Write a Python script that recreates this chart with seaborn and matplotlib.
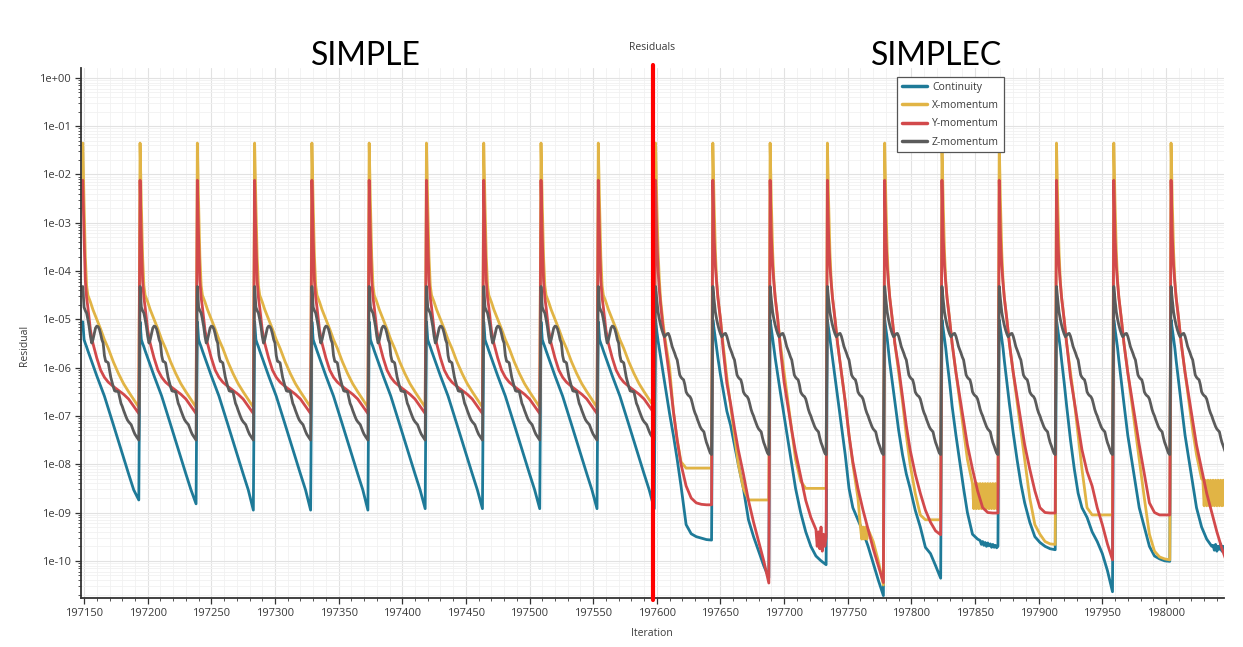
import numpy as np
import pandas as pd
import matplotlib
matplotlib.use("Agg")
import matplotlib.pyplot as plt
from matplotlib.lines import Line2D
from matplotlib.ticker import FixedLocator, FuncFormatter, NullFormatter
import seaborn as sns

# ---------------- data (log10 of residual) ----------------
series_names = ["Continuity", "X-momentum", "Y-momentum", "Z-momentum"]
series_colors = ["#1e7a98", "#e1b445", "#d2494b", "#5b5b5b"]

first_cycle_iteration = 197149
cycle_length = 45
n_simple_cycles = 10
n_simplec_cycles = 10
switch_iteration = 197597

x_tick_values = [197150, 197200, 197250, 197300, 197350, 197400, 197450, 197500,
                 197550, 197600, 197650, 197700, 197750, 197800, 197850, 197900,
                 197950, 198000]
y_tick_exponents = [0, -1, -2, -3, -4, -5, -6, -7, -8, -9, -10]

# sample offsets inside one cycle (iterations after the spike)
OFFS = [0, 1, 2, 3, 4, 6, 8, 11, 14, 17, 20, 24, 28, 32, 36, 40, 44]

# SIMPLE cycles (all alike)
simple_cont = [-5.05, -5.42, -5.50, -5.57, -5.65, -5.80, -5.95, -6.17, -6.38, -6.59,
               -6.84, -7.18, -7.52, -7.86, -8.20, -8.53, -8.87]
simple_cont_end = [-8.74, -8.82, -8.95, -8.95, -8.95, -8.92, -8.92, -8.92, -8.92, -8.92]
simple_xmom = [-1.35, -2.60, -3.70, -4.30, -4.50, -4.64, -4.80, -5.00, -5.20, -5.42,
               -5.60, -5.88, -6.12, -6.33, -6.50, -6.66, -6.82]
simple_ymom = [-2.12, -3.30, -4.20, -4.55, -4.75, -5.22, -5.50, -5.80, -6.05, -6.20,
               -6.30, -6.39, -6.47, -6.55, -6.65, -6.80, -6.95]
simple_zmom = [-4.32, -4.75, -4.82, -4.87, -5.00, -5.15, -5.35, -5.49, -5.42, -5.30,
               -5.18, -5.14, -5.15, -5.20, -5.30, -5.42, -5.49, -5.75, -5.87, -5.88,
               -5.90, -6.05, -6.20, -6.30, -6.40, -6.48, -6.49, -6.49, -6.50, -6.62,
               -6.74, -6.80, -6.88, -6.95, -7.02, -7.08, -7.12, -7.15, -7.18, -7.25,
               -7.32, -7.38, -7.42, -7.46, -7.50]

# SIMPLEC cycles (one list per cycle)
simplec_cont = [
    [-5.01, -5.25, -5.45, -5.62, -5.80, -6.12, -6.45, -6.95, -7.40, -7.90, -8.45, -9.25, -9.44, -9.50, -9.53, -9.56, -9.57],
    [-5.01, -5.20, -5.40, -5.60, -5.80, -6.15, -6.45, -6.90, -7.20, -7.60, -8.00, -8.50, -9.15, -9.50, -9.80, -10.10, -10.35],
    [-5.01, -5.20, -5.40, -5.60, -5.80, -6.15, -6.50, -7.00, -7.50, -8.00, -8.50, -9.00, -9.40, -9.70, -9.90, -10.00, -10.08],
    [-5.01, -5.20, -5.40, -5.60, -5.80, -6.20, -6.60, -7.20, -7.80, -8.50, -8.90, -9.15, -9.40, -9.70, -10.05, -10.40, -10.72],
    [-5.01, -5.20, -5.40, -5.65, -5.90, -6.30, -6.70, -7.30, -7.80, -8.20, -8.50, -8.95, -9.30, -9.72, -9.85, -10.10, -10.36],
    [-5.01, -5.20, -5.40, -5.60, -5.85, -6.30, -6.80, -7.40, -7.95, -8.50, -9.00, -9.45, -9.55, -9.62, -9.65, -9.68, -9.70],
    [-5.01, -5.20, -5.40, -5.60, -5.85, -6.30, -6.75, -7.35, -7.90, -8.40, -8.80, -9.20, -9.50, -9.62, -9.70, -9.75, -9.77],
    [-5.01, -5.20, -5.40, -5.60, -5.85, -6.30, -6.80, -7.50, -8.10, -8.60, -8.90, -9.10, -9.40, -9.60, -9.85, -10.20, -10.64],
    [-5.01, -5.20, -5.40, -5.60, -5.85, -6.30, -6.75, -7.40, -7.90, -8.40, -8.90, -9.30, -9.70, -9.90, -9.96, -10.00, -10.01],
    [-5.01, -5.20, -5.40, -5.60, -5.85, -6.30, -6.75, -7.40, -7.90, -8.40, -8.90, -9.30, -9.55, -9.70, -9.72, -9.72, -9.74],
]
simplec_xmom = [
    [-1.35, -2.60, -3.60, -4.20, -4.60, -5.10, -5.50, -6.00, -6.90, -7.50, -7.95, -8.08, -8.08, -8.08, -8.08, -8.08, -8.08],
    [-1.35, -2.60, -3.60, -4.20, -4.55, -5.00, -5.50, -6.20, -6.80, -7.40, -8.00, -8.50, -8.74, -8.74, -8.74, -8.74, -8.74],
    [-1.35, -2.60, -3.60, -4.20, -4.55, -5.00, -5.50, -6.10, -6.70, -7.30, -7.90, -8.35, -8.50, -8.50, -8.50, -8.50, -8.50],
    [-1.35, -2.60, -3.60, -4.20, -4.55, -5.00, -5.50, -6.10, -6.70, -7.40, -8.00, -8.70, -9.20, -9.35, -9.60, -10.00, -10.50],
    [-1.35, -2.60, -3.60, -4.20, -4.55, -5.00, -5.50, -6.10, -6.70, -7.40, -8.00, -8.60, -9.05, -9.15, -9.15, -9.15, -9.15],
    [-1.35, -2.60, -3.60, -4.20, -4.55, -5.00, -5.50, -6.10, -6.70, -7.30, -7.90, -8.40, -8.60, -8.60, -8.60, -8.60, -8.60],
    [-1.35, -2.60, -3.60, -4.20, -4.55, -5.00, -5.50, -6.10, -6.70, -7.30, -7.90, -8.70, -9.25, -9.45, -9.60, -9.65, -9.66],
    [-1.35, -2.60, -3.60, -4.20, -4.55, -5.00, -5.50, -6.10, -6.70, -7.40, -8.10, -8.90, -9.05, -9.05, -9.05, -9.05, -9.05],
    [-1.35, -2.60, -3.60, -4.20, -4.55, -5.00, -5.50, -6.10, -6.70, -7.30, -7.90, -8.70, -9.45, -9.80, -9.92, -9.96, -9.98],
    [-1.35, -2.60, -3.60, -4.20, -4.55, -5.00, -5.50, -6.10, -6.70, -7.30, -7.80, -8.30, -8.60, -8.60, -8.60, -8.60, -8.60],
]
simplec_ymom = [
    [-2.12, -3.30, -4.00, -4.40, -4.70, -5.20, -5.60, -6.20, -6.90, -7.50, -8.00, -8.45, -8.70, -8.80, -8.83, -8.84, -8.84],
    [-2.12, -3.30, -3.90, -4.25, -4.55, -5.00, -5.60, -6.32, -6.75, -7.25, -7.70, -8.20, -8.75, -9.20, -9.60, -10.00, -10.46],
    [-2.12, -3.30, -3.90, -4.25, -4.55, -5.00, -5.60, -6.30, -6.80, -7.30, -7.75, -8.25, -8.75, -9.10, -9.40, -9.50, -9.50],
    [-2.12, -3.30, -3.90, -4.25, -4.55, -5.00, -5.50, -6.10, -6.70, -7.40, -7.95, -8.50, -8.95, -9.35, -9.75, -10.10, -10.45],
    [-2.12, -3.30, -3.90, -4.25, -4.55, -5.00, -5.50, -6.00, -6.60, -7.20, -7.70, -8.20, -8.60, -8.95, -9.20, -9.38, -9.46],
    [-2.12, -3.30, -3.90, -4.25, -4.55, -5.00, -5.50, -6.10, -6.60, -7.10, -7.60, -8.10, -8.55, -8.90, -9.00, -9.01, -9.01],
    [-2.12, -3.30, -3.90, -4.25, -4.55, -5.00, -5.50, -6.10, -6.60, -7.10, -7.60, -8.10, -8.55, -8.90, -9.00, -9.01, -9.01],
    [-2.12, -3.30, -3.90, -4.25, -4.55, -5.00, -5.50, -6.20, -6.70, -7.20, -7.70, -8.15, -8.45, -8.90, -9.25, -9.65, -9.98],
    [-2.12, -3.30, -3.90, -4.25, -4.55, -5.00, -5.50, -6.10, -6.60, -7.10, -7.60, -8.20, -8.80, -9.00, -9.05, -9.05, -9.05],
    [-2.12, -3.30, -3.90, -4.25, -4.55, -5.00, -5.50, -6.10, -6.60, -7.10, -7.60, -8.10, -8.60, -9.00, -9.40, -9.75, -10.05],
]
simplec_zmom = [-4.32, -4.60, -4.85, -5.00, -5.12, -5.22, -5.30, -5.36, -5.33, -5.30,
                -5.29, -5.35, -5.45, -5.56, -5.63, -5.70, -5.78, -5.84, -6.00, -6.15,
                -6.20, -6.23, -6.25, -6.35, -6.50, -6.55, -6.58, -6.60, -6.65, -6.75,
                -6.86, -6.94, -7.00, -7.08, -7.15, -7.22, -7.27, -7.30, -7.33, -7.45,
                -7.55, -7.62, -7.70, -7.77, -7.80]

# oscillating plateaus, one value per iteration: (SIMPLEC cycle index, first offset, values)
osc_xmom = [
    (3, 26, [-9.30, -9.55, -9.30, -9.55, -9.30, -9.55, -9.35]),
    (5, 24, [-8.40, -8.92, -8.40, -8.92, -8.40, -8.92, -8.40, -8.92, -8.40, -8.92, -8.40,
             -8.92, -8.40, -8.92, -8.40, -8.92, -8.40, -8.92, -8.40, -8.92, -8.40]),
    (9, 25, [-8.33, -8.86, -8.33, -8.86, -8.33, -8.86, -8.33, -8.86, -8.33, -8.86,
             -8.33, -8.86, -8.33, -8.86, -8.33, -8.86, -8.33, -8.86, -8.33, -8.86]),
]
osc_ymom = [
    (2, 36, [-9.35, -9.70, -9.40, -9.75, -9.30, -9.80, -9.45, -9.70, -9.50]),
]
osc_cont = [
    (5, 30, [-9.58, -9.66, -9.60, -9.68, -9.62, -9.70, -9.63, -9.69, -9.65, -9.72,
             -9.66, -9.72, -9.68, -9.73, -9.70]),
    (9, 33, [-9.68, -9.78, -9.66, -9.80, -9.70, -9.76, -9.65, -9.80, -9.70, -9.75,
             -9.68, -9.78]),
]

# ---------------- assemble a long table ----------------
def merge(offsets, values, osc_list, cyc):
    pts = dict(zip(offsets, values))
    for c, s, ov in osc_list:
        if c == cyc:
            for o in list(pts):
                if s <= o < s + len(ov):
                    del pts[o]
            for i, v in enumerate(ov):
                pts[s + i] = v
    return sorted(pts.items())

rows = []
per_iter = list(range(cycle_length))
for k in range(n_simple_cycles + n_simplec_cycles):
    start = first_cycle_iteration + k * cycle_length
    if k < n_simple_cycles:
        cont_vals = simple_cont[:-1] + [simple_cont_end[k]]
        parts = {
            "Continuity": merge(OFFS, cont_vals, [], -1),
            "X-momentum": merge(OFFS, simple_xmom, [], -1),
            "Y-momentum": merge(OFFS, simple_ymom, [], -1),
            "Z-momentum": merge(per_iter, simple_zmom, [], -1),
        }
    else:
        c = k - n_simple_cycles
        parts = {
            "Continuity": merge(OFFS, simplec_cont[c], osc_cont, c),
            "X-momentum": merge(OFFS, simplec_xmom[c], osc_xmom, c),
            "Y-momentum": merge(OFFS, simplec_ymom[c], osc_ymom, c),
            "Z-momentum": merge(per_iter, simplec_zmom, [], c),
        }
    for name, pts in parts.items():
        for o, v in pts:
            rows.append((start + o, 10.0 ** v, name))

df = pd.DataFrame(rows, columns=["Iteration", "Residual", "Series"])

# ---------------- plot ----------------
sns.set_style("white")
plt.rcParams["font.family"] = ["Open Sans", "DejaVu Sans"]

fig = plt.figure(figsize=(12.43, 6.47), dpi=100)
ax = fig.add_axes([81 / 1243, 49 / 647, 1143 / 1243, 530 / 647])

palette = dict(zip(series_names, series_colors))
sns.lineplot(data=df, x="Iteration", y="Residual", hue="Series", hue_order=series_names,
             palette=palette, estimator=None, sort=True, linewidth=2.0, legend=False, ax=ax)

ax.set_yscale("log")
ax.set_xlim(197147.6, 198045.6)
ax.set_ylim(1.7e-11, 1.6)

x_minor = [v for v in range(197150, 198050, 10) if v % 50 != 0]
ax.xaxis.set_major_locator(FixedLocator(x_tick_values))
ax.xaxis.set_minor_locator(FixedLocator(x_minor))
ax.xaxis.set_major_formatter(FuncFormatter(lambda v, p: f"{int(round(v))}"))
ax.xaxis.set_minor_formatter(NullFormatter())

y_major = [10.0 ** e for e in y_tick_exponents]
y_minor = [m * 10.0 ** e for e in range(-11, 0) for m in range(2, 10)
           if 1.7e-11 <= m * 10.0 ** e <= 1.6]
ax.yaxis.set_major_locator(FixedLocator(y_major))
ax.yaxis.set_minor_locator(FixedLocator(y_minor))
ax.yaxis.set_minor_formatter(NullFormatter())
ax.yaxis.set_major_formatter(FuncFormatter(lambda v, p: f"1e{int(round(np.log10(v))):+03d}"))

ax.grid(which="major", color="#e2e2e2", lw=0.8)
ax.grid(which="minor", color="#f1f1f1", lw=0.6)
ax.set_axisbelow(True)

for s in ["top", "right"]:
    ax.spines[s].set_visible(False)
for s in ["left", "bottom"]:
    ax.spines[s].set_color("#333333")
    ax.spines[s].set_linewidth(1.3)

ax.tick_params(which="major", direction="out", length=4, width=0.9, color="#333333",
               labelsize=8, labelcolor="#3a3a3a", bottom=True, left=True, pad=3)
ax.tick_params(which="minor", direction="out", length=2.5, width=0.7, color="#555555",
               bottom=True, left=True)
ax.set_xlabel("")
ax.set_ylabel("")

# switch marker
ax.axvline(switch_iteration, ymin=-0.004, ymax=1.006, color="#ff0000", lw=3.0,
           clip_on=False, zorder=6)

# legend
handles = [Line2D([0], [0], color=c, lw=2.5) for c in series_colors]
leg = ax.legend(handles, series_names, loc="upper left", bbox_to_anchor=(0.714, 0.983),
                borderaxespad=0, fontsize=7.5, frameon=True, fancybox=False,
                edgecolor="#555555", framealpha=1, handlelength=2.4, handletextpad=0.5,
                labelspacing=0.7, borderpad=0.45)
leg.get_frame().set_linewidth(0.9)
for t in leg.get_texts():
    t.set_color("#3a3a3a")

# texts
fig.text(652 / 1243, 1 - 48 / 647, "Residuals", ha="center", va="center",
         fontsize=7.5, color="#3a3a3a")
fig.text(652 / 1243, 1 - 634 / 647, "Iteration", ha="center", va="center",
         fontsize=7.5, color="#3a3a3a")
fig.text(25 / 1243, 1 - 345 / 647, "Residual", ha="center", va="center",
         rotation=90, fontsize=7.5, color="#3a3a3a")
fig.text(366 / 1243, 1 - 56 / 647, "SIMPLE", ha="center", va="center",
         fontsize=23, color="black", family=["Lato", "DejaVu Sans"])
fig.text(937 / 1243, 1 - 56 / 647, "SIMPLEC", ha="center", va="center",
         fontsize=23, color="black", family=["Lato", "DejaVu Sans"])

fig.savefig("out.png", dpi=100, facecolor="white")
